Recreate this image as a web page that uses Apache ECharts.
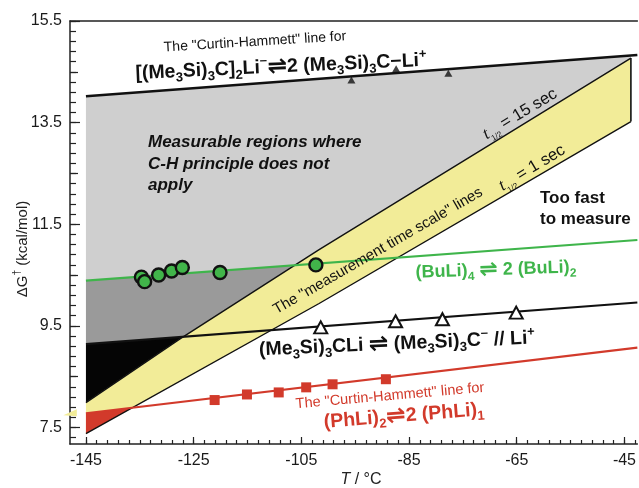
<!DOCTYPE html>
<html>
<head>
<meta charset="utf-8">
<script src="https://cdn.jsdelivr.net/npm/echarts@6/dist/echarts.min.js"></script>
<style>
  html, body { margin: 0; padding: 0; background: #fff; }
  #chart { width: 639px; height: 488px; }
</style>
</head>
<body>
<div id="chart"></div>
<script>
// Axis ticks (T in °C, ΔG‡ in kcal/mol)
const xTicks = [-145, -125, -105, -85, -65, -45];
const yTicks = [7.5, 9.5, 11.5, 13.5, 15.5];

// Fitted lines, [T, ΔG‡]
const chLineTop = [[-145, 14.02], [-42.6, 14.83]];   // [(Me3Si)3C]2Li- <=> 2 (Me3Si)3C-Li+
const buliLine = [[-145, 10.39], [-42.6, 11.19]];    // (BuLi)4 <=> 2 (BuLi)2
const trisylLine = [[-145, 9.14], [-42.6, 9.96]];    // (Me3Si)3CLi <=> (Me3Si)3C- // Li+
const phliLine = [[-145, 7.78], [-42.6, 9.07]];      // (PhLi)2 <=> 2 (PhLi)1

// Measurement time-scale lines
const halfLife15 = [[-145, 7.99], [-127.6, 9.24], [-101.7, 11.0], [-43.8, 14.77]];
const halfLife1 = [[-145, 7.38], [-101.7, 9.94], [-43.8, 13.52]];

// Measured points
const dimerPts = [[-95.7, 14.34], [-87.4, 14.56], [-77.7, 14.47]];
const buliPts = [[-134.7, 10.46], [-134.1, 10.37], [-131.5, 10.50], [-129.1, 10.58],
                 [-127.1, 10.65], [-120.1, 10.55], [-102.3, 10.70]];
const trisylPts = [[-101.4, 9.47], [-87.5, 9.59], [-78.8, 9.63], [-65.1, 9.76]];
const phliPts = [[-121.1, 8.04], [-115.1, 8.15], [-109.2, 8.19], [-104.1, 8.29],
                 [-99.2, 8.35], [-89.3, 8.45]];
const yellowTab = [[-149.2, 7.74], [-146.7, 7.86], [-146.7, 7.72]];

const X_MIN = -147.96, X_MAX = -42.6, Y_MIN = 7.175, Y_MAX = 15.5;

// minor tick positions
const xMinor = [];
for (let v = -145; v <= -43; v += 2) xMinor.push(v);
const yMinor = [];
for (let k = 0; k <= 41; k++) yMinor.push(Math.round((7.3 + 0.2 * k) * 10) / 10);
const yMid = [8.5, 10.5, 12.5, 14.5];

// --- geometry helpers for the shaded regions ---
function valueAt(line, x) {
  for (let i = 0; i < line.length - 1; i++) {
    const [x0, y0] = line[i], [x1, y1] = line[i + 1];
    if (x <= x1 || i === line.length - 2) return y0 + (y1 - y0) * (x - x0) / (x1 - x0);
  }
}
function crossing(a, b, lo, hi) {
  let fl = valueAt(a, lo) - valueAt(b, lo);
  for (let k = 0; k < 60; k++) {
    const m = (lo + hi) / 2, fm = valueAt(a, m) - valueAt(b, m);
    if ((fm > 0) === (fl > 0)) { lo = m; fl = fm; } else { hi = m; }
  }
  return (lo + hi) / 2;
}
function span(line, xa, xb) {
  const pts = [[xa, valueAt(line, xa)]];
  line.forEach(p => { if (p[0] > xa && p[0] < xb) pts.push(p); });
  pts.push([xb, valueAt(line, xb)]);
  return pts;
}
const xL = -145;
const xE = halfLife15[halfLife15.length - 1][0];
const xG = crossing(buliLine, halfLife15, xL, xE);
const xB = crossing(trisylLine, halfLife15, xL, xE);
const xR = crossing(phliLine, halfLife1, xL, xE);

const lightRegion = [...span(chLineTop, xL, xE), ...span(halfLife15, xG, xE).reverse(), ...span(buliLine, xL, xG).reverse()];
const darkRegion = [...span(buliLine, xL, xG), ...span(halfLife15, xB, xG).reverse(), ...span(trisylLine, xL, xB).reverse()];
const blackRegion = [...span(trisylLine, xL, xB), ...span(halfLife15, xL, xB).reverse()];
const bandRegion = [...span(halfLife15, xL, xE), ...span(halfLife1, xL, xE).reverse()];
const redRegion = [...span(phliLine, xL, xR), ...span(halfLife1, xL, xR).reverse()];
const bandEnd = [[xE, valueAt(halfLife15, xE)], [xE, valueAt(halfLife1, xE)]];

function area(poly, color, clip) {
  return {
    type: 'custom', coordinateSystem: 'cartesian2d', clip: clip, silent: true, z: 1,
    data: [[-100, 10]],
    renderItem: (params, api) => ({
      type: 'polygon',
      shape: { points: poly.map(p => api.coord(p)) },
      style: { fill: color }
    })
  };
}
function line(data, color, width, z) {
  return {
    type: 'line', data: data, symbol: 'none', silent: true, z: z || 2,
    lineStyle: { color: color, width: width }
  };
}

const F = '"Liberation Sans", Arial, Helvetica, sans-serif';
const RED = '#d23a2b', GREEN = '#3fb54b', INK = '#111';

function richSet(size, weight, color, fontStyle) {
  const b = { fontFamily: F, fontWeight: weight, fontStyle: fontStyle || 'normal', fill: color };
  const small = Math.round(size * 0.68);
  return {
    n: Object.assign({}, b, { fontSize: size, lineHeight: size + 6 }),
    s: Object.assign({}, b, { fontSize: small, lineHeight: small + 1, verticalAlign: 'bottom' }),
    p: Object.assign({}, b, { fontSize: small, lineHeight: small + 1, verticalAlign: 'top' }),
    a: Object.assign({}, b, { fontSize: size + 4, lineHeight: size + 6, fontFamily: '"DejaVu Sans", sans-serif', fontWeight: 'bold' }),
    t: Object.assign({}, b, { fontSize: size + 1, lineHeight: size + 6, fontFamily: '"Liberation Serif", "Times New Roman", serif', fontStyle: 'italic', fontWeight: 'normal' }),
    h: Object.assign({}, b, { fontSize: Math.round(size * 0.5), lineHeight: Math.round(size * 0.5), verticalAlign: 'bottom' })
  };
}
function label(x, y, rotDeg, text, size, weight, color, opts) {
  opts = opts || {};
  return {
    type: 'text', x: x, y: y, rotation: rotDeg * Math.PI / 180, z: 100, silent: true,
    style: {
      text: text,
      fontFamily: F, fontSize: size, fontWeight: weight, fontStyle: opts.fontStyle || 'normal',
      lineHeight: opts.lineHeight || size + 6,
      fill: color,
      align: opts.align || 'center', verticalAlign: 'middle',
      rich: richSet(size, weight, color, opts.fontStyle)
    }
  };
}

const graphics = [
  label(255, 42, 3.5, 'The "Curtin-Hammett" line for', 14, 'normal', INK),
  label(281, 67, 2.6, '[(Me{s|3}Si){s|3}C]{s|2}Li{p|\u2212}{a|\u21cc}2 (Me{s|3}Si){s|3}C\u2212Li{p|+}', 19.5, 'bold', INK),
  label(148, 164, 0, 'Measurable regions where\nC-H principle does not\napply', 17, 'bold', INK,
        { align: 'left', fontStyle: 'italic', lineHeight: 21.5 }),
  label(520, 114, 31, '{t|t}{h|1/2} = 15 sec', 16.5, 'normal', INK),
  label(532, 168, 31, '{t|t}{h|1/2} = 1 sec', 16.5, 'normal', INK),
  label(378, 251, 30, 'The "measurement time scale" lines', 15, 'normal', INK),
  label(540, 208.5, 0, 'Too fast\nto measure', 17, 'bold', INK, { align: 'left', lineHeight: 21 }),
  label(496, 270, 2, '(BuLi){s|4} {a|\u21cc} 2 (BuLi){s|2}', 18, 'bold', GREEN),
  label(397, 344, 2.5, '(Me{s|3}Si){s|3}CLi {a|\u21cc} (Me{s|3}Si){s|3}C{p|\u2212} // Li{p|+}', 19.5, 'bold', INK),
  label(390, 396, 5, 'The "Curtin-Hammett" line for', 14.5, 'normal', RED),
  label(404, 416, 4.5, '(PhLi){s|2}{a|\u21cc}2 (PhLi){s|1}', 19.5, 'bold', RED),
  label(23, 249, 90, '\u0394G{p|\u2020} (kcal/mol)', 15, 'normal', '#222'),
  label(361, 480, 0, '{i|T} / \u00b0C', 16, 'normal', '#222')
];
graphics[graphics.length - 1].style.rich.i = { fontFamily: F, fontSize: 16, fontStyle: 'italic', fill: '#222' };

const axisColor = '#222';
const option = {
  animation: false,
  backgroundColor: '#fff',
  grid: { left: 70, right: 0, top: 21, bottom: 44 },
  xAxis: [
    {
      type: 'value', min: X_MIN, max: X_MAX, position: 'bottom',
      axisLine: { lineStyle: { color: axisColor, width: 1.5 } },
      axisTick: { inside: true, length: 7, customValues: xTicks, lineStyle: { color: axisColor, width: 1.2 } },
      axisLabel: { customValues: xTicks, fontSize: 16, color: '#1a1a1a', margin: 9, fontFamily: F },
      splitLine: { show: false }
    },
    {
      type: 'value', min: X_MIN, max: X_MAX, position: 'bottom',
      axisLine: { show: false },
      axisTick: { inside: true, length: 4, customValues: xMinor, lineStyle: { color: axisColor, width: 1.2 } },
      axisLabel: { show: false }, splitLine: { show: false }
    },
    {
      type: 'value', min: X_MIN, max: X_MAX, position: 'top',
      axisLine: { lineStyle: { color: axisColor, width: 1.5 } },
      axisTick: { show: false }, axisLabel: { show: false }, splitLine: { show: false }
    }
  ],
  yAxis: [
    {
      type: 'value', min: Y_MIN, max: Y_MAX, position: 'left',
      axisLine: { lineStyle: { color: axisColor, width: 1.5 } },
      axisTick: { inside: true, length: 10, customValues: yTicks, lineStyle: { color: axisColor, width: 1.2 } },
      axisLabel: { customValues: yTicks, fontSize: 16, color: '#1a1a1a', margin: 8, fontFamily: F,
                   formatter: v => v.toFixed(1) },
      splitLine: { show: false }
    },
    {
      type: 'value', min: Y_MIN, max: Y_MAX, position: 'left',
      axisLine: { show: false },
      axisTick: { inside: true, length: 6, customValues: yMinor, lineStyle: { color: axisColor, width: 1.2 } },
      axisLabel: { show: false }, splitLine: { show: false }
    },
    {
      type: 'value', min: Y_MIN, max: Y_MAX, position: 'left',
      axisLine: { show: false },
      axisTick: { inside: true, length: 8, customValues: yMid, lineStyle: { color: axisColor, width: 1.2 } },
      axisLabel: { show: false }, splitLine: { show: false }
    }
  ],
  series: [
    area(lightRegion, '#cfcfcf', true),
    area(darkRegion, '#9a9a9a', true),
    area(blackRegion, '#050505', true),
    area(bandRegion, '#f2ec98', true),
    area(redRegion, RED, true),
    area(yellowTab, '#f2ec98', false),
    line(halfLife15, '#111', 1.4),
    line(halfLife1, '#111', 1.4),
    line(bandEnd, '#111', 1.6),
    line(chLineTop, '#111', 2.6, 3),
    line(buliLine, GREEN, 2.2, 3),
    line(trisylLine, '#111', 2.2, 3),
    line(phliLine, RED, 2.2, 3),
    {
      type: 'scatter', data: dimerPts, symbol: 'triangle', symbolSize: [8, 7], z: 4, silent: true,
      itemStyle: { color: '#111' }
    },
    {
      type: 'scatter', data: buliPts, symbol: 'circle', symbolSize: 13, z: 4, silent: true,
      itemStyle: { color: '#41b54a', borderColor: '#111', borderWidth: 2.4, opacity: 1 }
    },
    {
      type: 'scatter', data: trisylPts, symbol: 'triangle', symbolSize: [13, 12], z: 4, silent: true,
      itemStyle: { color: '#fff', borderColor: '#111', borderWidth: 2, opacity: 1 }
    },
    {
      type: 'scatter', data: phliPts, symbol: 'rect', symbolSize: 10, z: 4, silent: true,
      itemStyle: { color: RED, opacity: 1 }
    }
  ],
  graphic: graphics
};

const chart = echarts.init(document.getElementById('chart'), null, { renderer: 'canvas' });
chart.setOption(option);
</script>
</body>
</html>
